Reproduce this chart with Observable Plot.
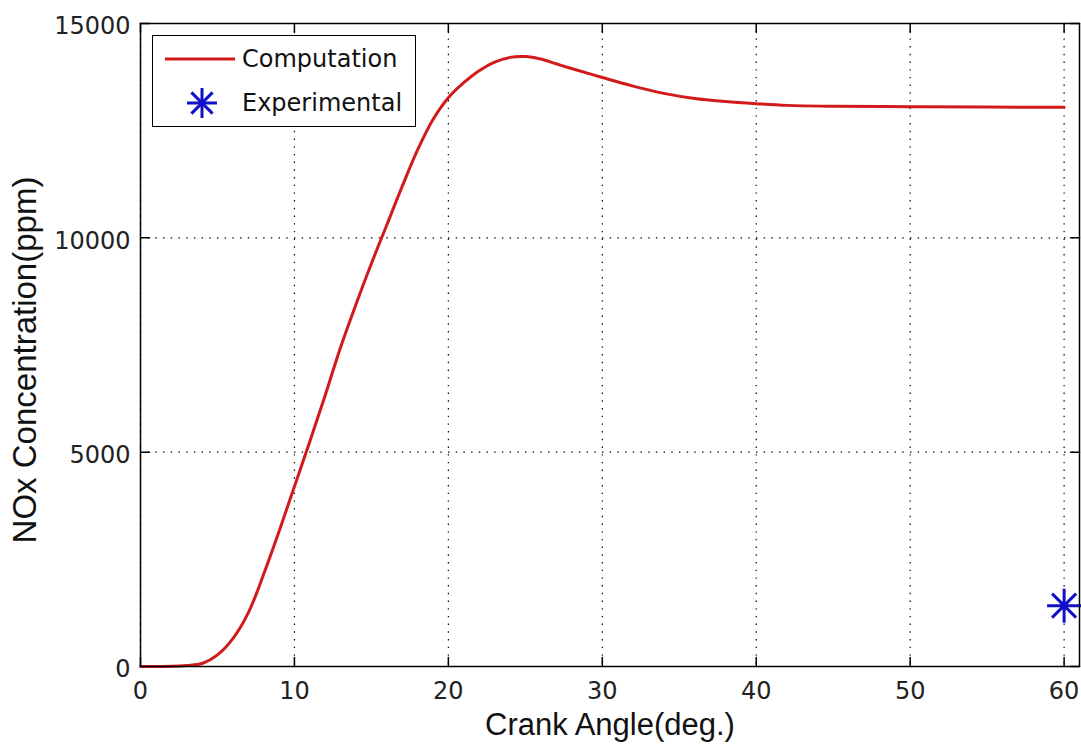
<!DOCTYPE html>
<html>
<head>
<meta charset="utf-8">
<script src="https://cdn.jsdelivr.net/npm/d3@7"></script>
<script src="https://cdn.jsdelivr.net/npm/@observablehq/plot@0.6"></script>
<style>
  html, body { margin: 0; padding: 0; background: #fff; }
  #wrap { position: relative; width: 1081px; height: 747px; }
  #legend { position: absolute; left: 152px; top: 35px; width: 262px; height: 90px;
    border: 1.5px solid #000; background: #fff; font-family: "DejaVu Sans", sans-serif; font-size: 24px; color: #111; }
  #legend svg { position: absolute; left: 0; top: 0; }
  #legend .lbl { position: absolute; left: 89px; line-height: 1; }
</style>
</head>
<body>
<div id="wrap"></div>
<script>
// Computation: NOx concentration (ppm) vs crank angle (deg.)
const compAngle = [0, 2, 3, 4, 5, 6, 7, 8, 9, 10, 11, 12, 13, 14, 15, 16, 17, 18, 19, 20, 21, 22, 23, 24, 25, 26, 27, 28, 30, 32, 34, 36, 38, 40, 42, 45, 50, 55, 60];
const compNOx  = [0, 5, 25, 70, 270, 650, 1250, 2150, 3150, 4200, 5250, 6330, 7450, 8450, 9400, 10300, 11200, 12050, 12760, 13270, 13620, 13900, 14100, 14210, 14230, 14170, 14060, 13950, 13740, 13540, 13370, 13250, 13180, 13130, 13090, 13070, 13060, 13050, 13046];
// Experimental measurement
const expAngle = [60];
const expNOx = [1420];
const xTicks = [0, 10, 20, 30, 40, 50, 60];
const yTicks = [0, 5000, 10000, 15000];
const seriesNames = ["Computation", "Experimental"];

const comp = compAngle.map((a, i) => ({angle: a, nox: compNOx[i]}));
const exp = expAngle.map((a, i) => ({angle: a, nox: expNOx[i]}));

const red = "#d21a1a";
const blue = "#1010c8";
const asterisk8 = {
  draw(context, size) {
    const r = Math.sqrt(size / Math.PI);
    const d = r * Math.SQRT1_2;
    context.moveTo(0, -r); context.lineTo(0, r);
    context.moveTo(-r, 0); context.lineTo(r, 0);
    context.moveTo(-d, -d); context.lineTo(d, d);
    context.moveTo(-d, d); context.lineTo(d, -d);
  }
};
// inward tick shapes
const tickUp = {draw(c, l) { c.moveTo(0, 0); c.lineTo(0, -l); }};
const tickDown = {draw(c, l) { c.moveTo(0, 0); c.lineTo(0, l); }};
const tickRight = {draw(c, l) { c.moveTo(0, 0); c.lineTo(l, 0); }};
const tickLeft = {draw(c, l) { c.moveTo(0, 0); c.lineTo(-l, 0); }};
const tickOpts = {length: 9, rotate: 0, anchor: "start", stroke: "#000", strokeWidth: 1.5};

const tickFont = "DejaVu Sans, sans-serif";
const labelFont = "Liberation Sans, Arial, sans-serif";
const chart = Plot.plot({
  width: 1081,
  height: 747,
  marginLeft: 140,
  marginRight: 2,
  marginTop: 23,
  marginBottom: 81,
  style: {fontFamily: tickFont, background: "#fff", color: "#111"},
  x: {domain: [0, 61]},
  y: {domain: [0, 15000]},
  marks: [
    Plot.gridX(xTicks, {stroke: "#000", strokeOpacity: 1, strokeWidth: 1.2, strokeDasharray: "1.4,6.3"}),
    Plot.gridY(yTicks, {stroke: "#000", strokeOpacity: 1, strokeWidth: 1.2, strokeDasharray: "1.4,6.3"}),
    Plot.vector(xTicks, {x: d => d, frameAnchor: "bottom", shape: tickUp, ...tickOpts}),
    Plot.vector(xTicks, {x: d => d, frameAnchor: "top", shape: tickDown, ...tickOpts}),
    Plot.vector(yTicks, {y: d => d, frameAnchor: "left", shape: tickRight, ...tickOpts}),
    Plot.vector(yTicks, {y: d => d, frameAnchor: "right", shape: tickLeft, ...tickOpts}),
    Plot.axisX(xTicks, {anchor: "bottom", tickSize: 0, tickPadding: 15, fontSize: 24, label: null, fill: "#222", tickFormat: "d"}),
    Plot.axisY(yTicks, {anchor: "left", tickSize: 0, tickPadding: 10, fontSize: 24, label: null, fill: "#222", dy: 3, tickFormat: "d"}),
    Plot.line(comp, {x: "angle", y: "nox", stroke: red, strokeWidth: 3, curve: "catmull-rom"}),
    Plot.dot(exp, {x: "angle", y: "nox", symbol: asterisk8, r: 17, stroke: blue, strokeWidth: 3}),
    Plot.frame({stroke: "#000", strokeWidth: 1.5}),
    Plot.text(["Crank Angle(deg.)"], {frameAnchor: "bottom", textAnchor: "middle", lineAnchor: "bottom", dy: 68, fontSize: 31, fontFamily: labelFont, fill: "#111"}),
    Plot.text(["NOx Concentration(ppm)"], {frameAnchor: "left", textAnchor: "middle", lineAnchor: "middle", rotate: -90, dx: -115, dy: 15, fontSize: 33, fontFamily: labelFont, fill: "#111"})
  ]
});

const wrap = document.getElementById("wrap");
wrap.appendChild(chart);

const legend = document.createElement("div");
legend.id = "legend";
legend.innerHTML = `
<svg width="262" height="90">
  <line x1="12" y1="23" x2="82" y2="23" stroke="${red}" stroke-width="3"/>
  <g transform="translate(49,67)" stroke="${blue}" stroke-width="3">
    <line x1="0" y1="-15" x2="0" y2="15"/><line x1="-15" y1="0" x2="15" y2="0"/>
    <line x1="-10.6" y1="-10.6" x2="10.6" y2="10.6"/><line x1="-10.6" y1="10.6" x2="10.6" y2="-10.6"/>
  </g>
</svg>
<div class="lbl" style="top:11px">${seriesNames[0]}</div>
<div class="lbl" style="top:55px">${seriesNames[1]}</div>`;
wrap.appendChild(legend);
</script>
</body>
</html>
